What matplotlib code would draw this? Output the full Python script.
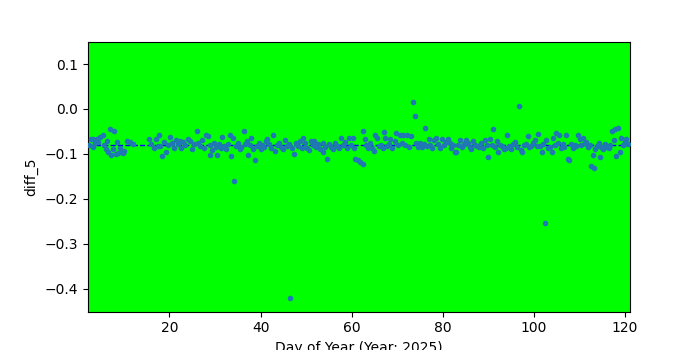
import matplotlib
matplotlib.use("Agg")
import matplotlib.pyplot as plt
import numpy as np

days = [
    2.4, 2.8, 3.1, 3.3, 3.6, 4.0, 4.3, 4.8, 5.3, 5.6, 6.0, 6.3, 6.6, 7.0, 7.2, 7.5, 7.9, 8.2, 8.5, 8.8,
    9.2, 9.5, 9.8, 10.1, 10.7, 11.4, 11.9,
    15.5, 16.0, 16.6, 17.0, 17.5, 17.7, 18.0, 18.4, 18.8, 19.3, 19.7, 20.2, 20.6, 21.0, 21.4, 21.8,
    22.2, 22.6, 23.0, 23.5, 24.0, 24.6, 25.0, 25.4, 26.0, 26.3, 26.7, 27.1, 27.5, 28.0, 28.4, 28.8, 29.0,
    29.4, 29.8, 30.2, 30.4, 30.8, 31.2, 31.5, 32.0, 32.4, 32.8, 33.2, 33.6, 33.9, 34.1, 34.5, 35.0, 35.4,
    35.8, 36.3, 36.6, 37.0, 37.2, 37.6, 37.9, 38.3, 38.8, 39.2, 39.6, 40.0, 40.4, 40.8, 41.2, 41.4, 41.9,
    42.3, 42.8, 43.2, 43.7, 44.1, 44.5, 45.0, 45.4, 45.9, 46.3, 46.5, 46.8, 47.4, 47.8, 48.2, 48.6, 49.0,
    49.4, 49.8, 50.2, 50.6, 51.0, 51.4, 51.8, 52.2, 52.6, 53.0, 53.6, 53.8, 54.1, 54.5, 55.0, 55.4, 55.8,
    56.3, 56.8, 57.2, 57.6, 58.0, 58.5, 59.0, 59.4, 59.8, 60.2, 60.5, 60.8, 61.3, 61.8, 62.4, 62.5, 62.9,
    63.2, 63.6, 64.0, 64.4, 64.8, 65.1, 65.5, 65.9, 66.4, 66.8, 67.0, 67.4, 67.8, 68.2, 68.5, 68.9, 69.4,
    69.8, 70.2, 70.6, 71.0, 71.3, 71.7, 72.1, 72.5, 73.0, 73.4, 73.9, 74.2, 74.6, 75.0, 75.4, 75.8, 76.1,
    76.5, 76.9, 77.3, 77.7, 78.1, 78.6, 79.0, 79.4, 79.9, 80.3, 80.7, 81.1, 81.5, 81.9, 82.3, 82.6, 83.0,
    83.4, 83.8, 84.2, 84.6, 85.1, 85.5, 85.9, 86.3, 86.7, 87.1, 87.5, 87.9, 88.4, 88.8, 89.3, 89.6, 89.9,
    90.3, 90.7, 91.0, 91.4, 91.8, 92.2, 92.6, 93.0, 93.4, 93.8, 94.2, 94.6, 95.0, 95.4, 95.8, 96.2, 96.7,
    97.1, 97.4, 97.8, 98.2, 98.6, 99.0, 99.4, 99.8, 100.2, 100.6, 100.9, 101.3, 101.7, 102.1, 102.5, 102.7,
    103.1, 103.5, 103.9, 104.2, 104.6, 104.9, 105.3, 105.6, 105.9, 106.3, 106.7, 107.1, 107.4, 107.8, 108.2,
    108.6, 109.0, 109.3, 109.7, 110.1, 110.4, 110.8, 111.2, 111.5, 111.9, 112.3, 112.6, 112.9, 113.2, 113.5,
    113.9, 114.2, 114.5, 114.8, 115.2, 115.6, 116.0, 116.4, 116.8, 117.1, 117.5, 117.8, 118.1, 118.4, 118.8,
    119.1, 119.5, 119.9, 120.3, 120.7,
]
diff_5 = [
    -0.080, -0.067, -0.084, -0.067, -0.075, -0.067, -0.074, -0.062, -0.058, -0.080, -0.089, -0.072, -0.097, -0.045, -0.102, -0.090, -0.049, -0.100, -0.073, -0.098,
    -0.088, -0.096, -0.099, -0.093, -0.071, -0.073, -0.078,
    -0.067, -0.078, -0.087, -0.066, -0.083, -0.057, -0.082, -0.104, -0.073, -0.096, -0.081, -0.063, -0.076, -0.088, -0.070, -0.079,
    -0.071, -0.086, -0.074, -0.080, -0.066, -0.072, -0.090, -0.078, -0.049, -0.075, -0.082, -0.070, -0.086, -0.058, -0.061, -0.102, -0.080,
    -0.092, -0.076, -0.085, -0.102, -0.079, -0.088, -0.063, -0.082, -0.090, -0.077, -0.058, -0.104, -0.064, -0.160, -0.083, -0.075, -0.089,
    -0.085, -0.049, -0.078, -0.071, -0.102, -0.081, -0.064, -0.090, -0.113, -0.082, -0.076, -0.090, -0.080, -0.085, -0.072, -0.066, -0.077,
    -0.088, -0.058, -0.094, -0.081, -0.075, -0.085, -0.090, -0.070, -0.083, -0.079, -0.422, -0.087, -0.100, -0.075, -0.082, -0.071, -0.088,
    -0.064, -0.076, -0.088, -0.092, -0.072, -0.080, -0.071, -0.085, -0.079, -0.090, -0.075, -0.097, -0.084, -0.111, -0.078, -0.085, -0.090,
    -0.076, -0.083, -0.088, -0.065, -0.080, -0.074, -0.088, -0.064, -0.081, -0.065, -0.088, -0.111, -0.114, -0.118, -0.049, -0.122, -0.068,
    -0.080, -0.088, -0.076, -0.087, -0.094, -0.058, -0.064, -0.082, -0.080, -0.088, -0.052, -0.064, -0.083, -0.078, -0.066, -0.086, -0.072,
    -0.054, -0.081, -0.058, -0.075, -0.058, -0.080, -0.059, -0.085, -0.060, 0.015, -0.015, -0.075, -0.085, -0.075, -0.085, -0.078, -0.043,
    -0.082, -0.066, -0.080, -0.088, -0.070, -0.064, -0.079, -0.086, -0.066, -0.080, -0.073, -0.066, -0.075, -0.088, -0.080, -0.097, -0.095,
    -0.081, -0.070, -0.085, -0.078, -0.070, -0.075, -0.085, -0.090, -0.072, -0.080, -0.082, -0.085, -0.076, -0.088, -0.070, -0.080, -0.106,
    -0.068, -0.080, -0.045, -0.085, -0.072, -0.097, -0.080, -0.082, -0.090, -0.086, -0.058, -0.082, -0.090, -0.077, -0.073, -0.084, 0.007,
    -0.091, -0.095, -0.080, -0.078, -0.060, -0.085, -0.082, -0.076, -0.070, -0.082, -0.056, -0.082, -0.095, -0.078, -0.253, -0.070,
    -0.088, -0.085, -0.097, -0.064, -0.080, -0.053, -0.075, -0.058, -0.088, -0.079, -0.084, -0.058, -0.111, -0.113, -0.078,
    -0.086, -0.080, -0.083, -0.058, -0.068, -0.080, -0.064, -0.076, -0.073, -0.085, -0.080, -0.126, -0.102, -0.131, -0.090,
    -0.082, -0.075, -0.108, -0.085, -0.090, -0.078, -0.084, -0.088, -0.080, -0.050, -0.070, -0.045, -0.104, -0.043, -0.095,
    -0.064, -0.080, -0.073, -0.068, -0.077,
]
mean_line = -0.081

fig = plt.figure(figsize=(7, 3.5), dpi=100)
ax = fig.add_subplot(111)
ax.set_facecolor('#00ff00')
ax.scatter(days, diff_5, s=9, color='#1f77b4', zorder=3)
ax.axhline(mean_line, color='blue', linestyle='--', linewidth=1, zorder=2)
ax.set_xlim(2.0, 121.1)
ax.set_ylim(-0.451, 0.149)
ax.set_xlabel('Day of Year (Year: 2025)')
ax.set_ylabel('diff_5')
fig.savefig('out.png', dpi=100)
